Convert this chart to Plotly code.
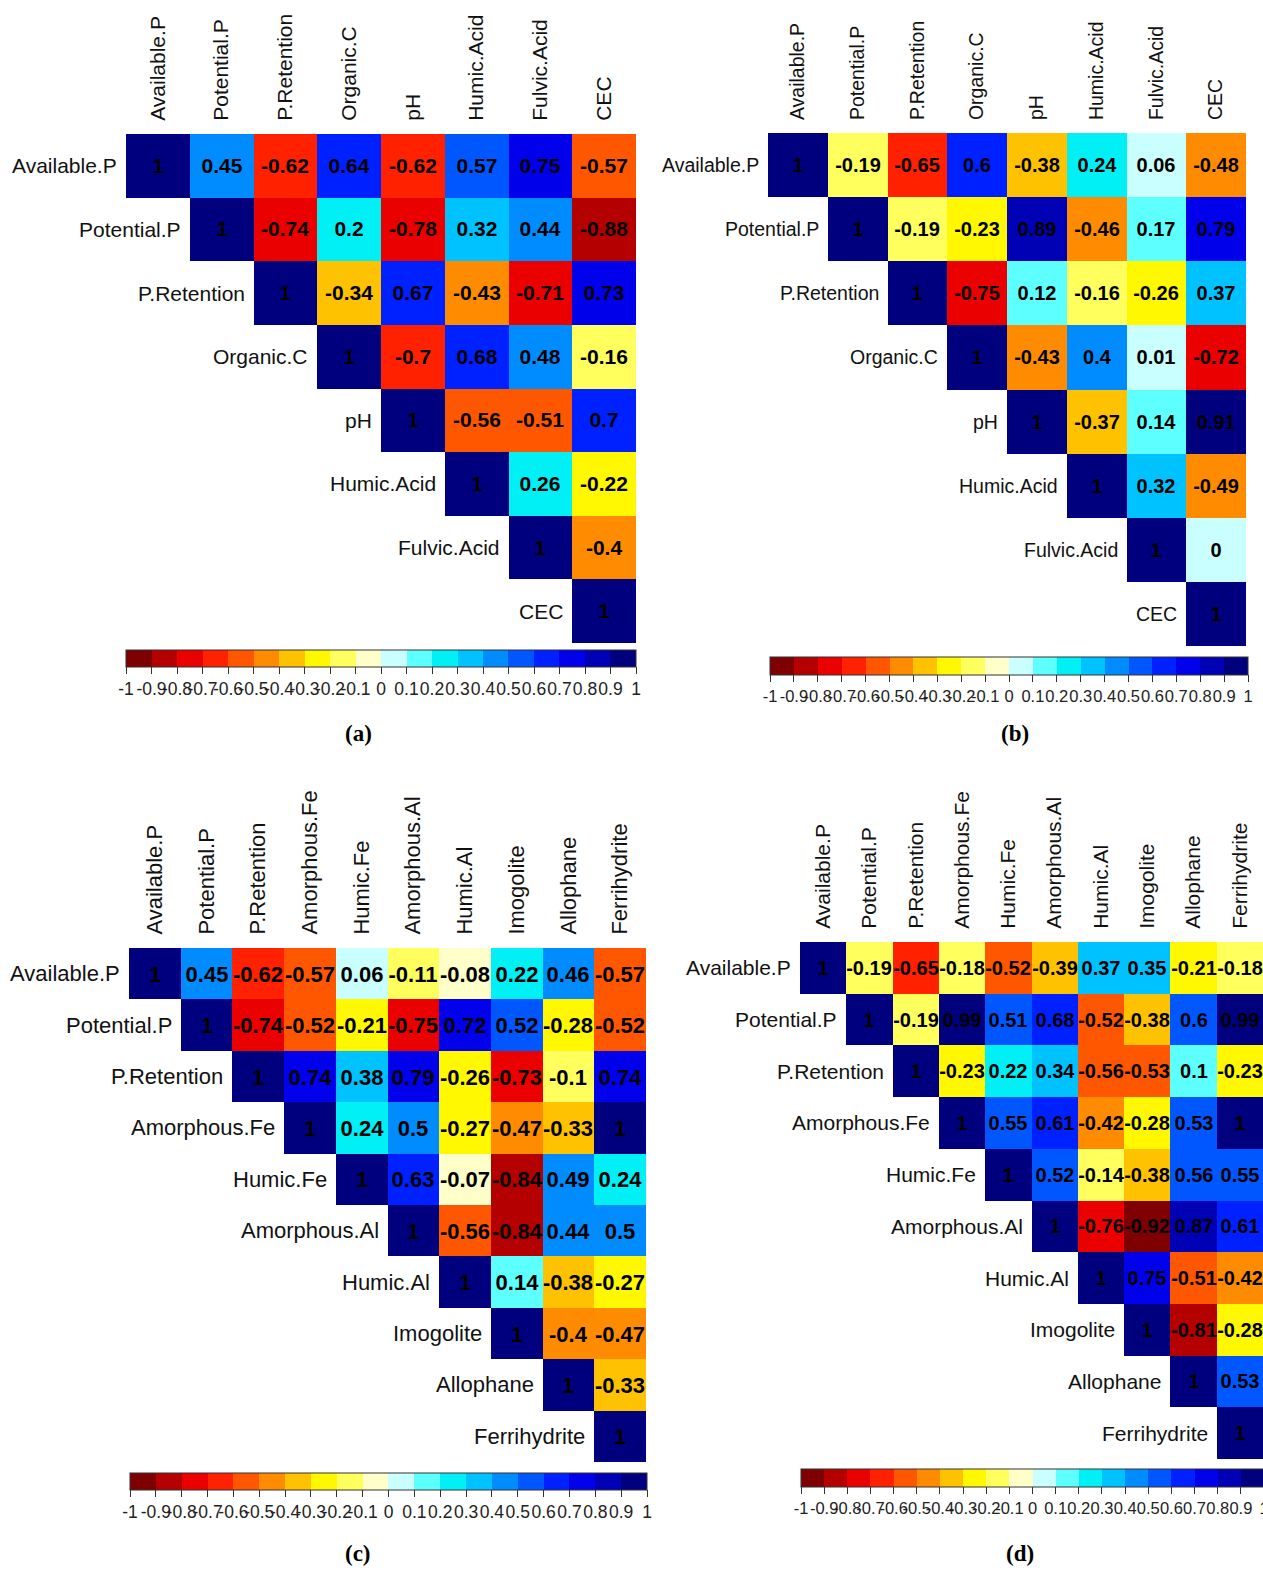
import plotly.graph_objects as go

W, H = 1263, 1571

vars_ab = ["Available.P", "Potential.P", "P.Retention", "Organic.C", "pH",
           "Humic.Acid", "Fulvic.Acid", "CEC"]
vars_cd = ["Available.P", "Potential.P", "P.Retention", "Amorphous.Fe", "Humic.Fe",
           "Amorphous.Al", "Humic.Al", "Imogolite", "Allophane", "Ferrihydrite"]

# upper-triangle rows, each starting at the diagonal
corr_a = [
    [1, 0.45, -0.62, 0.64, -0.62, 0.57, 0.75, -0.57],
    [1, -0.74, 0.203, -0.78, 0.32, 0.44, -0.88],
    [1, -0.34, 0.67, -0.43, -0.71, 0.73],
    [1, -0.698, 0.68, 0.48, -0.16],
    [1, -0.56, -0.51, 0.698],
    [1, 0.26, -0.22],
    [1, -0.402],
    [1],
]
corr_b = [
    [1, -0.19, -0.65, 0.602, -0.38, 0.24, 0.06, -0.48],
    [1, -0.19, -0.23, 0.89, -0.46, 0.17, 0.79],
    [1, -0.75, 0.12, -0.16, -0.26, 0.37],
    [1, -0.43, 0.402, 0.01, -0.72],
    [1, -0.37, 0.14, 0.91],
    [1, 0.32, -0.49],
    [1, 0.002],
    [1],
]
corr_c = [
    [1, 0.45, -0.62, -0.57, 0.06, -0.11, -0.08, 0.22, 0.46, -0.57],
    [1, -0.74, -0.52, -0.21, -0.75, 0.72, 0.52, -0.28, -0.52],
    [1, 0.74, 0.38, 0.79, -0.26, -0.73, -0.102, 0.74],
    [1, 0.24, 0.498, -0.27, -0.47, -0.33, 1],
    [1, 0.63, -0.07, -0.84, 0.49, 0.24],
    [1, -0.56, -0.84, 0.44, 0.498],
    [1, 0.14, -0.38, -0.27],
    [1, -0.402, -0.47],
    [1, -0.33],
    [1],
]
corr_d = [
    [1, -0.19, -0.65, -0.18, -0.52, -0.39, 0.37, 0.35, -0.21, -0.18],
    [1, -0.19, 0.99, 0.51, 0.68, -0.52, -0.38, 0.598, 0.99],
    [1, -0.23, 0.22, 0.34, -0.56, -0.53, 0.102, -0.23],
    [1, 0.55, 0.61, -0.42, -0.28, 0.53, 1],
    [1, 0.52, -0.14, -0.38, 0.56, 0.55],
    [1, -0.76, -0.92, 0.87, 0.61],
    [1, 0.75, -0.51, -0.42],
    [1, -0.81, -0.28],
    [1, 0.53],
    [1],
]

cbar_ticks = [-1, -0.9, -0.8, -0.7, -0.6, -0.5, -0.4, -0.3, -0.2, -0.1, 0,
              0.1, 0.2, 0.3, 0.4, 0.5, 0.6, 0.7, 0.8, 0.9, 1]
cbar_labels = ["-1", "-0.9", "-0.8", "-0.7", "-0.6", "-0.5", "-0.4", "-0.3", "-0.2", "-0.1", "0",
               "0.1", "0.2", "0.3", "0.4", "0.5", "0.6", "0.7", "0.8", "0.9", "1"]

bin_colors = ["#7F0000", "#B50000", "#EB0000", "#FF2100", "#FF5700", "#FF8C00", "#FFC200",
              "#FFF800", "#FFFF5E", "#FFFFC9", "#C9FFFF", "#5EFFFF", "#00F0F5", "#00C2FF",
              "#008CFF", "#0057FF", "#0021FF", "#0000EB", "#0000B5", "#00007F"]
nb = len(bin_colors)
colorscale = []
for k, c in enumerate(bin_colors):
    colorscale.append([k / nb, c])
    colorscale.append([(k + 1) / nb, c])

FONT = "Liberation Sans, Arial, sans-serif"

panels = [
    dict(tag="(a)", vars=vars_ab, rows=corr_a, grid=(126, 636, 134, 643),
         cbar=(126, 636, 650, 667), lab=(358, 733), fl=21, fn=21, fc=17.5),
    dict(tag="(b)", vars=vars_ab, rows=corr_b, grid=(768, 1246, 133, 646),
         cbar=(770, 1248, 657, 675), lab=(1015, 733), fl=19.5, fn=20, fc=16.5),
    dict(tag="(c)", vars=vars_cd, rows=corr_c, grid=(129, 646, 948, 1462),
         cbar=(130, 647, 1473, 1490), lab=(358, 1553), fl=22, fn=22, fc=17.5),
    dict(tag="(d)", vars=vars_cd, rows=corr_d, grid=(800, 1263, 942, 1459),
         cbar=(801, 1264, 1469, 1487), lab=(1020, 1553), fl=21, fn=20, fc=16.5),
]


def fmt(v):
    return f"{v:.2f}".rstrip("0").rstrip(".")


fig = go.Figure()
annotations = []
layout = {}
for p_i, p in enumerate(panels):
    names = p["vars"]
    n = len(names)
    z = [[None] * n for _ in range(n)]
    txt = [[""] * n for _ in range(n)]
    for i, row in enumerate(p["rows"]):
        for k, v in enumerate(row):
            z[i][i + k] = v
            txt[i][i + k] = fmt(v)
    sfx = "" if p_i == 0 else str(p_i + 1)
    gl, gr, gt, gb = p["grid"]
    cl, cr, ct, cb = p["cbar"]
    fig.add_trace(go.Heatmap(
        x=list(range(n)), y=list(range(n)), z=z, text=txt, texttemplate="%{text}",
        textfont=dict(family=FONT, size=p["fn"], color="black", weight="bold"),
        colorscale=colorscale, zmin=-1, zmax=1, hoverinfo="skip",
        xaxis="x" + sfx, yaxis="y" + sfx,
        colorbar=dict(
            orientation="h", x=cl / W, xanchor="left", y=1 - ct / H, yanchor="top",
            len=cr - cl, lenmode="pixels", thickness=cb - ct, thicknessmode="pixels",
            xpad=0, ypad=0, outlinewidth=1, outlinecolor="#333",
            tickmode="array", tickvals=cbar_ticks, ticktext=cbar_labels,
            ticks="outside", ticklen=7, tickwidth=1, tickcolor="#333", tickangle=0,
            ticklabeloverflow="allow",
            tickfont=dict(family=FONT, size=p["fc"], color="#222"),
        ),
    ))
    layout["xaxis" + sfx] = dict(
        domain=[gl / W, gr / W], anchor="y" + sfx, side="top", range=[-0.5, n - 0.5],
        tickmode="array", tickvals=list(range(n)), ticktext=names, tickangle=-90,
        ticks="outside", ticklen=8, tickcolor="rgba(0,0,0,0)",
        tickfont=dict(family=FONT, size=p["fl"], color="#111"),
        showgrid=False, zeroline=False, showline=False, fixedrange=True,
    )
    layout["yaxis" + sfx] = dict(
        domain=[1 - gb / H, 1 - gt / H], anchor="x" + sfx, range=[n - 0.5, -0.5],
        showticklabels=False, ticks="", showgrid=False, zeroline=False,
        showline=False, fixedrange=True,
    )
    for i, name in enumerate(names):
        annotations.append(dict(
            x=i - 0.5, y=i, xref="x" + sfx, yref="y" + sfx, text=name,
            xanchor="right", yanchor="middle", xshift=-7, showarrow=False,
            font=dict(family=FONT, size=p["fl"], color="#111"),
        ))
    annotations.append(dict(
        x=p["lab"][0] / W, y=1 - p["lab"][1] / H, xref="paper", yref="paper",
        text="<b>" + p["tag"] + "</b>", xanchor="center", yanchor="middle",
        showarrow=False, font=dict(family="Liberation Serif, Times New Roman, serif",
                                   size=23, color="black"),
    ))

fig.update_layout(
    width=W, height=H, margin=dict(l=0, r=0, t=0, b=0, pad=0, autoexpand=False),
    paper_bgcolor="white", plot_bgcolor="white", showlegend=False,
    annotations=annotations, **layout,
)

fig.write_html("out.html", config={"displayModeBar": False},
               post_script="document.body.style.margin='0px';")
